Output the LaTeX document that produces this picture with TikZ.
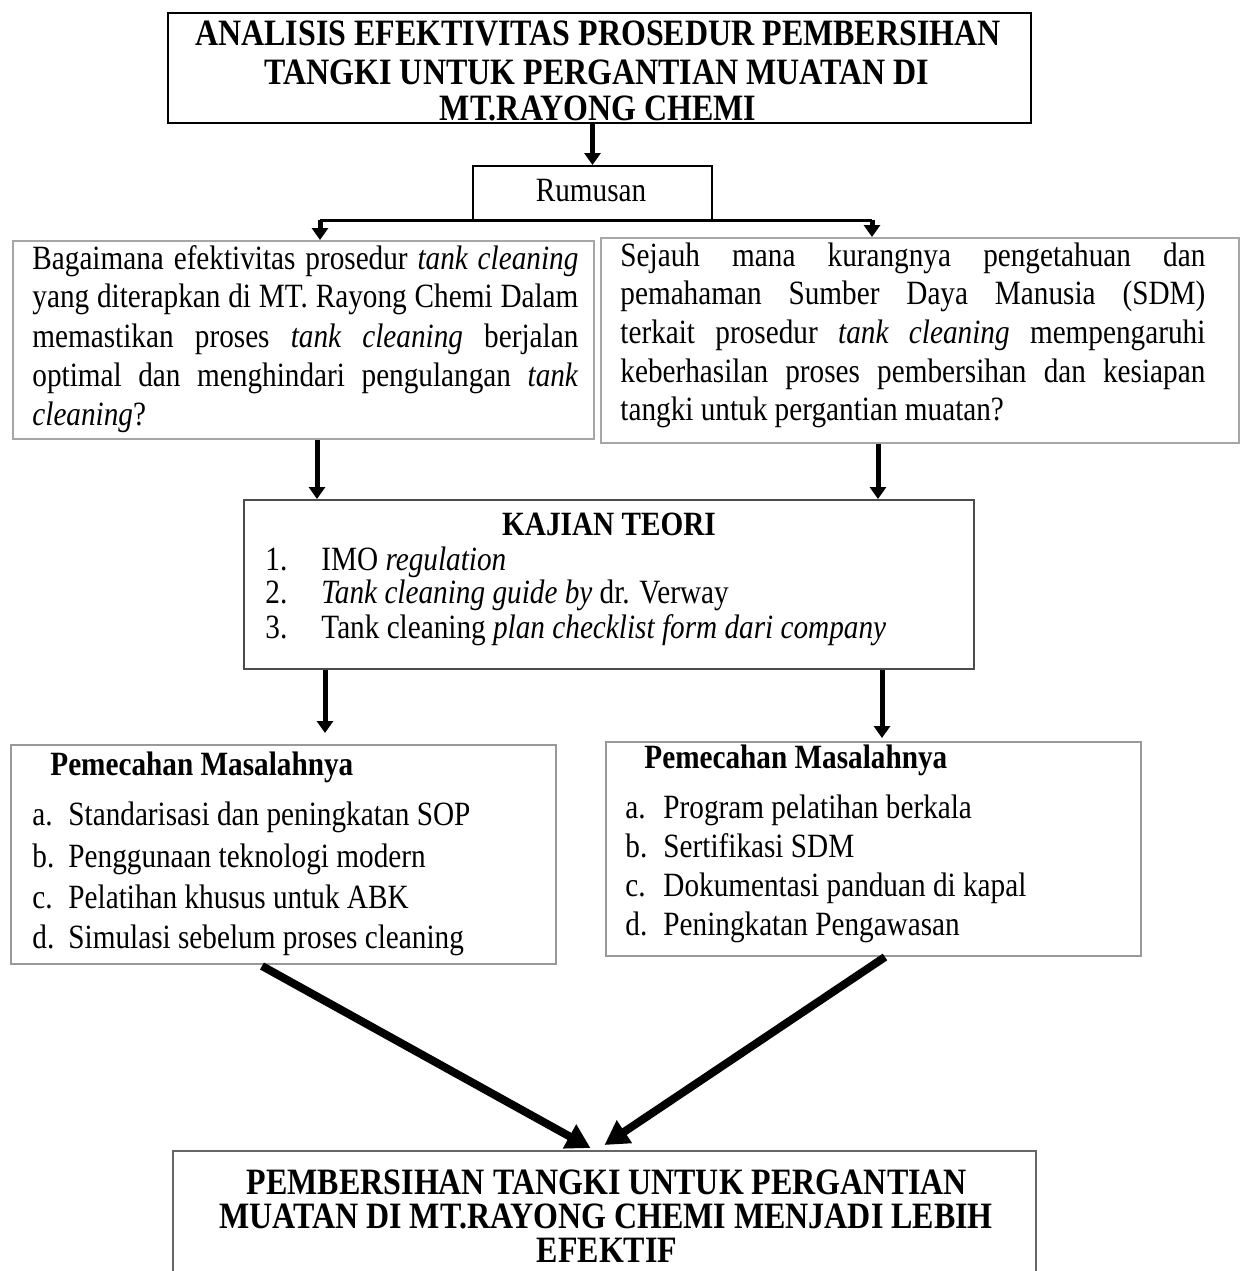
\documentclass[tikz,border=0pt]{standalone}
\usepackage{fontspec}
\setmainfont{Liberation Serif}[FakeStretch=0.86]
\usetikzlibrary{arrows.meta,calc}
\newcommand\jline[2]{\makebox[#1][s]{#2}}
\begin{document}
\begin{tikzpicture}[x=0.5pt,y=-0.5pt,
  frame/.style={draw=#1, line width=1pt, inner sep=0pt, anchor=north west, fill=none},
  txt/.style={anchor=base west, inner sep=0pt, font=\fontsize{17}{20}\selectfont},
  ctxt/.style={anchor=base, inner sep=0pt, font=\fontsize{17}{20}\selectfont},
  ttl/.style={anchor=base, inner sep=0pt, font=\bfseries\fontsize{18.6}{20}\selectfont},
  hd/.style={anchor=base west, inner sep=0pt, font=\bfseries\fontsize{17}{20}\selectfont},
  arr/.style={line width=2.5pt, -{Triangle[width=8pt,length=6pt]}},
  bigarr/.style={line width=4pt, -{Triangle[width=13pt,length=12pt]}}]
\useasboundingbox (0,0) rectangle (1243,1271);
\fill[white] (0,0) rectangle (1243,1271);

% boxes
\node[frame=black, line width=1.2pt, minimum width=431.5pt, minimum height=55pt] (title) at (167,12) {};
\node[frame=black, minimum width=119.5pt, minimum height=27pt] (rum) at (472,165) {};
\node[frame=gray!70, minimum width=290.5pt, minimum height=99pt] (q1) at (12,240) {};
\node[frame=gray!70, minimum width=319pt, minimum height=102.5pt] (q2) at (600,237) {};
\node[frame=black!70, minimum width=365pt, minimum height=84.5pt] (kaj) at (243,499) {};
\node[frame=gray!80, minimum width=272.5pt, minimum height=109.5pt] (p1) at (10,744) {};
\node[frame=gray!80, minimum width=267.5pt, minimum height=107pt] (p2) at (605,741) {};
\node[frame=black!60, minimum width=431.5pt, minimum height=80pt] (fin) at (172,1150) {};

% title text
\node[ttl] (t1) at (598,45) {ANALISIS EFEKTIVITAS PROSEDUR PEMBERSIHAN};
\node[ttl] (t2) at (597,84) {TANGKI UNTUK PERGANTIAN MUATAN DI};
\node[ttl] (t3) at (598,120) {MT.RAYONG CHEMI};

\node[ctxt] (rt) at (591,201) {Rumusan};

% left question
\node[txt] (a1) at (32,269) {\jline{273pt}{Bagaimana efektivitas prosedur \textit{tank cleaning}}};
\node[txt] (a2) at (32,307) {\jline{273pt}{yang diterapkan di MT. Rayong Chemi Dalam}};
\node[txt] (a3) at (32,347) {\jline{273pt}{memastikan proses \textit{tank cleaning} berjalan}};
\node[txt] (a4) at (32,386) {\jline{273pt}{optimal dan menghindari pengulangan \textit{tank}}};
\node[txt] (a5) at (32,425) {\textit{cleaning}?};

% right question
\node[txt] (b1) at (620,266) {\jline{292.5pt}{Sejauh mana kurangnya pengetahuan dan}};
\node[txt] (b2) at (620,304) {\jline{292.5pt}{pemahaman Sumber Daya Manusia (SDM)}};
\node[txt] (b3) at (620,343) {\jline{292.5pt}{terkait prosedur \textit{tank cleaning} mempengaruhi}};
\node[txt] (b4) at (620,382) {\jline{292.5pt}{keberhasilan proses pembersihan dan kesiapan}};
\node[txt] (b5) at (620,420) {tangki untuk pergantian muatan?};

% kajian teori
\node[ttl, font=\bfseries\fontsize{17}{20}\selectfont] (kh) at (609,535) {KAJIAN TEORI};
\node[txt] (kn1) at (265,570) {1.};
\node[txt] (kn2) at (265,603) {2.};
\node[txt] (kn3) at (265,638) {3.};
\node[txt] (k1) at (321,570) {IMO \textit{regulation}};
\node[txt] (k2) at (321,603) {\textit{Tank cleaning guide by} dr. Verway};
\node[txt] (k3) at (321,638) {Tank cleaning \textit{plan checklist form dari company}};

% pemecahan left
\node[hd] (ph1) at (50,775) {Pemecahan Masalahnya};
\node[txt] (la) at (32,825) {a.};
\node[txt] (lb) at (32,867) {b.};
\node[txt] (lc) at (32,908) {c.};
\node[txt] (ld) at (32,948) {d.};
\node[txt] (l1) at (68,825) {Standarisasi dan peningkatan SOP};
\node[txt] (l2) at (68,867) {Penggunaan teknologi modern};
\node[txt] (l3) at (68,908) {Pelatihan khusus untuk ABK};
\node[txt] (l4) at (68,948) {Simulasi sebelum proses cleaning};

% pemecahan right
\node[hd] (ph2) at (644,768) {Pemecahan Masalahnya};
\node[txt] (ra) at (625,818) {a.};
\node[txt] (rb) at (625,857) {b.};
\node[txt] (rc) at (625,896) {c.};
\node[txt] (rd) at (625,935) {d.};
\node[txt] (r1) at (663,818) {Program pelatihan berkala};
\node[txt] (r2) at (663,857) {Sertifikasi SDM};
\node[txt] (r3) at (663,896) {Dokumentasi panduan di kapal};
\node[txt] (r4) at (663,935) {Peningkatan Pengawasan};

% final
\node[ttl] (f1) at (607,1194) {PEMBERSIHAN TANGKI UNTUK PERGANTIAN};
\node[ttl] (f2) at (606,1228) {MUATAN DI MT.RAYONG CHEMI MENJADI LEBIH};
\node[ttl] (f3) at (607,1262) {EFEKTIF};

% connectors
\draw[arr] (rum.north |- title.south) -- (rum.north);
\coordinate (bl) at (320,220);
\coordinate (br) at (872,220);
\draw[line width=1.5pt] (bl) -- (br);
\draw[arr] (bl) -- (bl |- q1.north);
\draw[arr] (br) -- (br |- q2.north);

\coordinate (c1) at (317,0);
\coordinate (c2) at (878,0);
\draw[arr] (q1.south -| c1) -- (kaj.north -| c1);
\draw[arr] (q2.south -| c2) -- (kaj.north -| c2);

\coordinate (e1) at (325,0);
\coordinate (e2) at (882,0);
\draw[arr] (kaj.south -| e1) -- ([yshift=5.5pt]p1.north -| e1);
\draw[arr] (kaj.south -| e2) -- ([yshift=1.5pt]p2.north -| e2);

\coordinate (s1) at (262,966);
\coordinate (s2) at (885,957);
\draw[bigarr] (s1) -- ([xshift=-7pt,yshift=1pt]fin.north);
\draw[bigarr] (s2) -- ([yshift=2.5pt]fin.north);
\end{tikzpicture}
\end{document}
